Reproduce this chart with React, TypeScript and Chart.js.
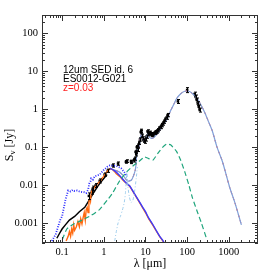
import React, { useEffect, useRef } from 'react';
import { Chart, registerables } from 'chart.js';
Chart.register(...registerables);

// ---- axis ticks ----
const xTickValues = [0.1, 1, 10, 100, 1000];
const xTickLabels = ['0.1', '1', '10', '100', '1000'];
const yTickValues = [0.001, 0.01, 0.1, 1, 10, 100];
const yTickLabels = ['0.001', '0.01', '0.1', '1', '10', '100'];

// ---- observed optical spectrum (black line) ----
const specLambda = [0.075, 0.088, 0.1, 0.12, 0.15, 0.2, 0.26, 0.35, 0.46, 0.58, 0.7, 0.85, 1.0, 1.2];
const specFlux = [0.0004, 0.00055, 0.0007, 0.0009, 0.0012, 0.0015, 0.002, 0.0026, 0.0042, 0.0065, 0.009, 0.012, 0.015, 0.019];

// ---- photometry / IRS points ----
const dataLambda = [0.44, 0.52, 0.55, 0.64, 0.8, 1.05, 1.25, 1.65, 2.2, 3.4, 3.6, 4.5, 4.6,
  5.3, 5.6, 5.8, 6.0, 6.2, 6.5, 6.8, 7.1, 7.4, 7.7, 8.0, 8.3, 8.7, 9.1, 9.6, 10.1, 10.6, 11.2, 11.8, 12.4,
  13.1, 13.8, 14.6, 15.5, 16.5, 17.6, 18.8, 20.1, 21.5, 23, 24.6, 26.3, 28.1, 30, 32, 34,
  60, 100, 150, 160, 170, 180, 190, 200];
const dataFlux = [0.0052, 0.0068, 0.0082, 0.0098, 0.013, 0.019, 0.024, 0.033, 0.037, 0.041, 0.043, 0.042, 0.040,
  0.045, 0.05, 0.075, 0.065, 0.1, 0.085, 0.11, 0.13, 0.16, 0.25, 0.27, 0.2, 0.17, 0.15, 0.14, 0.16, 0.19, 0.26, 0.22, 0.23,
  0.24, 0.22, 0.21, 0.22, 0.24, 0.25, 0.26, 0.28, 0.31, 0.34, 0.38, 0.42, 0.47, 0.53, 0.6, 0.7,
  1.6, 3.2, 2.5, 2.1, 1.75, 1.4, 1.15, 0.95];
const dataErr = [0.2, 0.15, 0.15, 0.12, 0.12, 0.1, 0.1, 0.1, 0.1, 0.08, 0.08, 0.08, 0.08,
  0.1, 0.1, 0.1, 0.1, 0.1, 0.1, 0.1, 0.1, 0.1, 0.1, 0.1, 0.1, 0.1, 0.1, 0.1, 0.1, 0.1, 0.1, 0.1, 0.1,
  0.1, 0.1, 0.1, 0.1, 0.1, 0.1, 0.1, 0.1, 0.1, 0.1, 0.1, 0.1, 0.1, 0.1, 0.1, 0.1,
  0.12, 0.15, 0.12, 0.12, 0.12, 0.12, 0.12, 0.12];

// ---- total model (red dashed over blue solid) ----
const modelLambda = [1.4, 1.8, 2.4, 2.9, 3.3, 3.6, 4.2, 4.7, 5.2, 5.7, 6.0, 6.2, 6.5, 7.0, 7.7, 8.2, 8.8, 9.6, 10.5, 11.3,
  12.5, 14, 16, 19, 22, 26, 30, 34, 40, 48, 56, 70, 87, 100, 114, 135, 168, 210, 262, 330, 400, 520, 700, 1045, 1400, 2000];
const modelFlux = [0.027, 0.025, 0.022, 0.018, 0.015, 0.013, 0.013, 0.014, 0.018, 0.025, 0.04, 0.075, 0.09, 0.1, 0.2, 0.22, 0.17, 0.14, 0.16, 0.22,
  0.18, 0.17, 0.18, 0.22, 0.27, 0.37, 0.47, 0.58, 0.9, 1.35, 1.9, 2.55, 2.95, 3.0, 2.9, 2.55, 2.0, 1.35, 0.83, 0.45, 0.27, 0.1, 0.042, 0.0088, 0.0034, 0.0009];

// ---- stellar (orange solid) ----
const starLambda = [0.125, 0.14, 0.15, 0.16, 0.17, 0.18, 0.19, 0.2, 0.22, 0.24, 0.26, 0.28, 0.3, 0.32, 0.34, 0.36, 0.38, 0.4, 0.42, 0.44,
  0.46, 0.48, 0.5, 0.55, 0.6, 0.65, 0.7, 0.8, 0.9, 1.0, 1.1, 1.25, 1.4, 1.6, 1.8, 2.0, 2.4, 2.9, 3.5, 4.2, 5, 6, 7, 8.6, 10, 12, 15, 18, 22, 26, 28];
const starFlux = [0.00034, 0.00045, 0.0006, 0.00045, 0.0007, 0.00055, 0.0009, 0.00065, 0.0008, 0.0011, 0.0008, 0.0013, 0.00095, 0.0014, 0.0019, 0.0012, 0.0023, 0.0026, 0.0019, 0.0036,
  0.0046, 0.0038, 0.0066, 0.0075, 0.0088, 0.0092, 0.011, 0.012, 0.015, 0.017, 0.02, 0.024, 0.027, 0.026, 0.023, 0.02, 0.017, 0.0135, 0.011, 0.0093, 0.0068, 0.0049, 0.0037, 0.0025, 0.0019, 0.0013, 0.00089, 0.00063, 0.00044, 0.00034, 0.0003];

// ---- young stars (blue dotted, UV/optical) ----
const uvLambda = [0.057, 0.07, 0.08, 0.09, 0.1, 0.11, 0.12, 0.13, 0.14, 0.16, 0.18, 0.2, 0.23, 0.26, 0.3, 0.34, 0.38, 0.42, 0.45, 0.48,
  0.5, 0.55, 0.6, 0.7, 0.8, 0.9, 1.0, 1.2, 1.4, 2.0, 2.6, 3.2, 3.6];
const uvFlux = [0.00034, 0.0005, 0.0008, 0.0012, 0.0015, 0.0025, 0.004, 0.0055, 0.0072, 0.0068, 0.0075, 0.007, 0.0072, 0.0068, 0.0066, 0.0065, 0.0062, 0.0075, 0.011, 0.0125,
  0.015, 0.014, 0.017, 0.018, 0.019, 0.022, 0.025, 0.03, 0.033, 0.032, 0.028, 0.021, 0.017];

// ---- blue solid stellar tail ----
const tailLambda = [1.4, 1.8, 2.4, 2.9, 3.5, 4.2, 5, 6, 7, 8.6, 10, 12, 15, 18, 22, 26, 28];
const tailFlux = [0.028, 0.024, 0.018, 0.014, 0.0112, 0.0095, 0.007, 0.005, 0.0038, 0.0026, 0.002, 0.00135, 0.00092, 0.00065, 0.00045, 0.00035, 0.0003];

// ---- dust continuum (green dashed) ----
const dustLambda = [0.08, 0.1, 0.13, 0.19, 0.3, 0.5, 0.8, 1.25, 1.6, 2.4, 3.5, 5, 7, 9.5, 12, 15, 20, 26, 32, 40, 56, 70, 87, 110, 135, 175, 220, 290];
const dustFlux = [0.00025, 0.00036, 0.0007, 0.00095, 0.0012, 0.0016, 0.0023, 0.0042, 0.006, 0.013, 0.022, 0.032, 0.042, 0.055, 0.05, 0.045, 0.07, 0.1, 0.12, 0.115, 0.076, 0.045, 0.023, 0.01, 0.0045, 0.002, 0.001, 0.0004];

// ---- hot dust (light blue dot-dash) ----
const hotLambda = [1.83, 2.0, 2.2, 2.5, 2.8, 3.1, 3.3, 3.45, 3.6, 3.8, 4.1, 4.5, 5.0, 5.5, 6.0, 6.4];
const hotFlux = [0.00034, 0.0006, 0.001, 0.0015, 0.0022, 0.0035, 0.006, 0.012, 0.022, 0.009, 0.005, 0.0035, 0.004, 0.007, 0.015, 0.03];

const annotLines = ['12um SED id. 6', 'ES0012-G021', 'z=0.03'];
const annotColors = ['#000000', '#000000', '#ff2020'];

const pts = (xs: number[], ys: number[]) => xs.map((x, i) => ({ x, y: ys[i] }));

const framePlugin = {
  id: 'frameTicks',
  afterDraw(chart: any) {
    const { ctx, chartArea, scales } = chart;
    const { left, right, top, bottom } = chartArea;
    const x = scales.x, y = scales.y;
    ctx.save();
    ctx.strokeStyle = '#333';
    ctx.lineWidth = 1;
    ctx.strokeRect(left + 0.5, top + 0.5, right - left - 1, bottom - top - 1);
    ctx.beginPath();
    for (let d = -3; d <= 4; d++) {
      for (let m = 1; m <= 9; m++) {
        const v = m * Math.pow(10, d);
        if (v > x.min && v < x.max) {
          const px = Math.round(x.getPixelForValue(v)) + 0.5;
          const len = m === 1 ? 6 : 3;
          ctx.moveTo(px, bottom); ctx.lineTo(px, bottom - len);
          ctx.moveTo(px, top); ctx.lineTo(px, top + len);
        }
      }
    }
    for (let d = -5; d <= 3; d++) {
      for (let m = 1; m <= 9; m++) {
        const v = m * Math.pow(10, d);
        if (v > y.min && v < y.max) {
          const py = Math.round(y.getPixelForValue(v)) + 0.5;
          const len = m === 1 ? 6 : 3;
          ctx.moveTo(left, py); ctx.lineTo(left + len, py);
          ctx.moveTo(right, py); ctx.lineTo(right - len, py);
        }
      }
    }
    ctx.stroke();

    // titles
    ctx.fillStyle = '#000';
    ctx.font = '12px "Liberation Serif"';
    ctx.textAlign = 'center';
    ctx.textBaseline = 'middle';
    ctx.fillText('λ [μm]', (left + right) / 2, 264);

    ctx.save();
    ctx.translate(10, 145);
    ctx.rotate(-Math.PI / 2);
    ctx.textAlign = 'left';
    ctx.textBaseline = 'middle';
    ctx.font = '12px "Liberation Serif"';
    const wS = ctx.measureText('S').width;
    const wRest = ctx.measureText(' [Jy]').width;
    ctx.font = '9px "Liberation Serif"';
    const wNu = ctx.measureText('ν').width;
    let cx = -(wS + wNu + wRest) / 2;
    ctx.font = '12px "Liberation Serif"';
    ctx.fillText('S', cx, 0);
    cx += wS;
    ctx.font = '9px "Liberation Serif"';
    ctx.fillText('ν', cx, 3);
    cx += wNu;
    ctx.font = '12px "Liberation Serif"';
    ctx.fillText(' [Jy]', cx, 0);
    ctx.restore();

    // annotation
    ctx.font = '10px "Liberation Sans"';
    ctx.textAlign = 'left';
    ctx.textBaseline = 'alphabetic';
    annotLines.forEach((t, i) => {
      ctx.fillStyle = annotColors[i];
      ctx.fillText(t, 63, 73 + i * 9.2);
    });
    ctx.restore();
  },
};

const errorPlugin = {
  id: 'errorBars',
  afterDatasetsDraw(chart: any) {
    const { ctx, scales, chartArea } = chart;
    const x = scales.x, y = scales.y;
    ctx.save();
    ctx.beginPath();
    ctx.rect(chartArea.left, chartArea.top, chartArea.right - chartArea.left, chartArea.bottom - chartArea.top);
    ctx.clip();
    ctx.strokeStyle = '#000';
    ctx.lineWidth = 1;
    ctx.beginPath();
    dataLambda.forEach((l, i) => {
      const px = Math.round(x.getPixelForValue(l)) + 0.5;
      const lo = y.getPixelForValue(dataFlux[i] * (1 - dataErr[i]));
      const hi = y.getPixelForValue(dataFlux[i] * (1 + dataErr[i]));
      ctx.moveTo(px, lo); ctx.lineTo(px, hi);
      ctx.moveTo(px - 1.5, lo); ctx.lineTo(px + 1.5, lo);
      ctx.moveTo(px - 1.5, hi); ctx.lineTo(px + 1.5, hi);
    });
    ctx.stroke();
    ctx.restore();
  },
};

export default function App() {
  const ref = useRef<HTMLCanvasElement>(null);
  useEffect(() => {
    document.body.style.margin = '0';
    const chart = new Chart(ref.current!, {
      type: 'scatter',
      data: {
        datasets: [
          { data: pts(dustLambda, dustFlux), showLine: true, borderColor: '#1fa57c', borderWidth: 1.2, borderDash: [5, 3], pointRadius: 0, tension: 0.15 },
          { data: pts(hotLambda, hotFlux), showLine: true, borderColor: '#9fcdec', borderWidth: 1, borderDash: [3, 2, 1, 2], pointRadius: 0, tension: 0.2 },
          { data: pts(uvLambda, uvFlux), showLine: true, borderColor: '#2b2bff', borderWidth: 1.8, borderDash: [1, 1.5], pointRadius: 0, tension: 0 },
          { data: pts(tailLambda, tailFlux), showLine: true, borderColor: '#3a3aff', borderWidth: 1.4, pointRadius: 0, tension: 0.2 },
          { data: pts(starLambda, starFlux), showLine: true, borderColor: '#ff6a10', borderWidth: 1.4, pointRadius: 0, tension: 0 },
          { data: pts(modelLambda, modelFlux), showLine: true, borderColor: '#7f9fd8', borderWidth: 1.2, pointRadius: 0, tension: 0.3 },
          { data: pts(modelLambda, modelFlux), showLine: true, borderColor: '#ff2a2a', borderWidth: 1, borderDash: [3, 3], pointRadius: 0, tension: 0.3 },
          { data: pts(specLambda, specFlux), showLine: true, borderColor: '#000', borderWidth: 1.5, pointRadius: 0, tension: 0 },
          { data: pts(dataLambda, dataFlux), showLine: false, pointStyle: 'rect', pointRadius: 1.8, backgroundColor: '#000', borderColor: '#000', borderWidth: 0 },
        ],
      },
      options: {
        animation: false,
        responsive: true,
        maintainAspectRatio: false,
        layout: { padding: { top: 15, right: 15, left: 0, bottom: 0 } },
        plugins: { legend: { display: false }, tooltip: { enabled: false } },
        scales: {
          x: {
            type: 'logarithmic',
            min: 0.033,
            max: 5000,
            grid: { display: false, drawTicks: false },
            border: { display: false },
            afterBuildTicks: (s: any) => { s.ticks = xTickValues.map((v) => ({ value: v })); },
            afterFit: (s: any) => { s.height = 30; },
            ticks: {
              autoSkip: false, maxRotation: 0, padding: 3, color: '#000',
              font: { family: '"Liberation Serif"', size: 10.5 },
              callback: (v: any) => { const i = xTickValues.indexOf(Number(v)); return i >= 0 ? xTickLabels[i] : ''; },
            },
          },
          y: {
            type: 'logarithmic',
            min: 0.00034,
            max: 300,
            grid: { display: false, drawTicks: false },
            border: { display: false },
            afterBuildTicks: (s: any) => { s.ticks = yTickValues.map((v) => ({ value: v })); },
            afterFit: (s: any) => { s.width = 42; },
            ticks: {
              autoSkip: false, padding: 4, color: '#000',
              font: { family: '"Liberation Serif"', size: 10.5 },
              callback: (v: any) => { const i = yTickValues.indexOf(Number(v)); return i >= 0 ? yTickLabels[i] : ''; },
            },
          },
        },
      },
      plugins: [errorPlugin, framePlugin],
    } as any);
    return () => chart.destroy();
  }, []);
  return (
    <div style={{ width: 273, height: 273, position: 'relative' }}>
      <canvas ref={ref} />
    </div>
  );
}
